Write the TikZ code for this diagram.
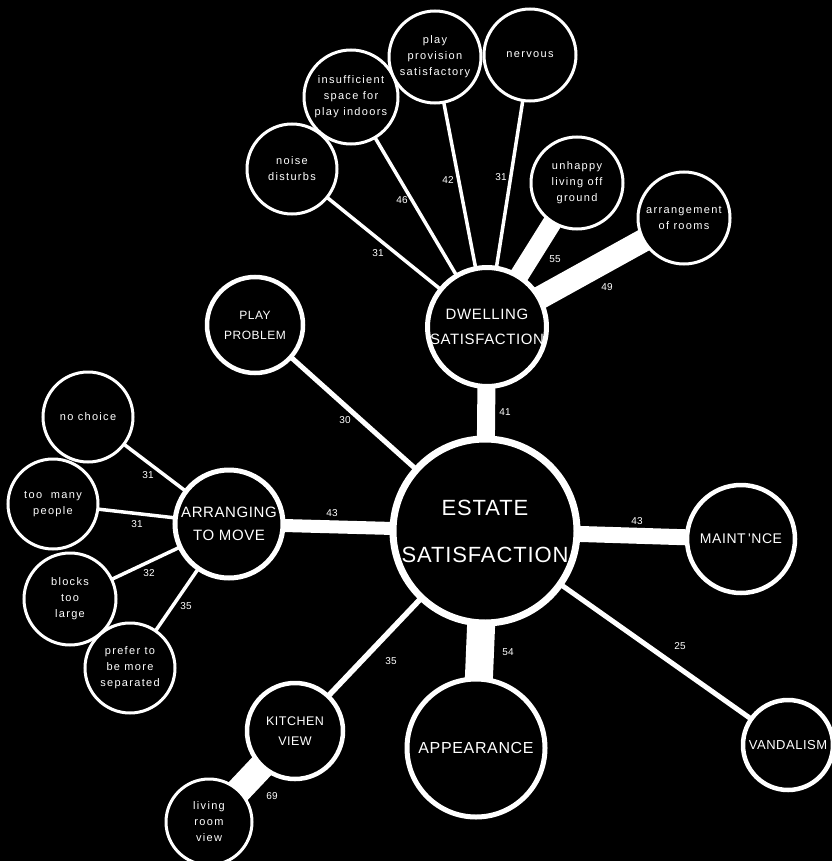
\documentclass[tikz,border=0pt]{standalone}
\usepackage{fontspec}
\setmainfont{Liberation Sans}
\newfontfamily\capsf[LetterSpace=4]{Liberation Sans}
\newfontfamily\smallf[LetterSpace=12]{Liberation Sans}
\usetikzlibrary{backgrounds}
\begin{document}
\begin{tikzpicture}[x=1pt,y=-1pt,
  bub/.style={circle, draw=white, fill=black, text=white, align=center, inner sep=0pt, outer sep=0pt},
  bigbub/.style={bub, line width=7pt, font=\capsf\fontsize{22}{47}\selectfont},
  midbub/.style={bub, line width=4.5pt},
  subbub/.style={bub, line width=3pt, font=\smallf\fontsize{11}{16}\selectfont},
  conn/.style={draw=white, line cap=butt},
  thin/.style={conn, line width=4pt},
  num/.style={text=white, font=\fontsize{10}{12}\selectfont, inner sep=0pt}]
\useasboundingbox (0,0) rectangle (832,861);
% main nodes
\node[bigbub, minimum size=184pt] (est) at (485,531) {ESTATE\\SATISFACTION};
\node[midbub, minimum size=116pt, line width=5pt, font=\capsf\fontsize{15}{25}\selectfont] (dw) at (487,327) {DWELLING\\SATISFACTION};
\node[midbub, minimum size=96pt, font=\capsf\fontsize{12}{20}\selectfont] (pp) at (255,325) {PLAY\\PROBLEM};
\node[midbub, minimum size=108pt, line width=5pt, font=\capsf\fontsize{15}{23}\selectfont] (arr) at (229,524) {ARRANGING\\TO MOVE};
\node[midbub, minimum size=108pt, font=\capsf\fontsize{14}{16}\selectfont] (mnt) at (741,539) {MAINT\,'NCE};
\node[midbub, minimum size=90pt, font=\capsf\fontsize{13}{16}\selectfont] (van) at (788,745) {VANDALISM};
\node[midbub, minimum size=138pt, line width=5pt, font=\capsf\fontsize{16}{20}\selectfont] (app) at (476,748) {APPEARANCE};
\node[midbub, minimum size=96pt, font=\capsf\fontsize{12.5}{20}\selectfont] (kv) at (295,731) {KITCHEN\\VIEW};
% sub nodes
\node[subbub, minimum size=86pt] (lrv) at (209,822) {living\\room\\view};
\node[subbub, minimum size=90pt] (nc) at (88,417) {no choice};
\node[subbub, minimum size=90pt] (tmp) at (53,504) {too\ \ many\\people};
\node[subbub, minimum size=92pt] (btl) at (70,599) {blocks\\too\\large};
\node[subbub, minimum size=90pt] (pref) at (130,668) {prefer to\\be more\\separated};
\node[subbub, minimum size=90pt] (noise) at (292,169) {noise\\disturbs};
\node[subbub, minimum size=94pt] (ins) at (351,97) {insufficient\\space for\\play indoors};
\node[subbub, minimum size=92pt] (ppr) at (435,57) {play\\provision\\satisfactory};
\node[subbub, minimum size=92pt] (nerv) at (530,55) {nervous};
\node[subbub, minimum size=92pt] (unh) at (577,183) {unhappy\\living off\\ground};
\node[subbub, minimum size=92pt] (arrg) at (684,218) {arrangement\\of rooms};
% connectors
\begin{scope}[on background layer]
\fill[black] (0,0) rectangle (832,861);
\draw[conn, line width=18pt] (est.center) -- (dw.center);
\draw[thin, line width=5pt] (est.center) -- (pp.center);
\draw[conn, line width=13pt] (est.center) -- (arr.center);
\draw[conn, line width=16pt] (est.center) -- (mnt.center);
\draw[thin, line width=5pt] (est.center) -- (van.center);
\draw[conn, line width=28pt] (est.center) -- (app.center);
\draw[thin, line width=5.5pt] (est.center) -- (kv.center);
\draw[conn, line width=26pt] (kv.center) -- (lrv.center);
\draw[thin, line width=3.5pt] (dw.center) -- (noise.center);
\draw[thin, line width=3.5pt] (dw.center) -- (ins.center);
\draw[thin, line width=3.5pt] (dw.center) -- (ppr.center);
\draw[thin, line width=3.5pt] (dw.center) -- (nerv.center);
\draw[conn, line width=19pt] (dw.center) -- (unh.center);
\draw[conn, line width=23pt] (dw.center) -- (arrg.center);
\draw[thin, line width=3.5pt] (arr.center) -- (nc.center);
\draw[thin, line width=3.5pt] (arr.center) -- (tmp.center);
\draw[thin, line width=3.5pt] (arr.center) -- (btl.center);
\draw[thin, line width=3.5pt] (arr.center) -- (pref.center);
\end{scope}
% labels
\node[num] (l1) at (505,412) {41};
\node[num] (l2) at (345,420) {30};
\node[num] (l3) at (332,513) {43};
\node[num] (l4) at (637,521) {43};
\node[num] (l5) at (680,646) {25};
\node[num] (l6) at (508,652) {54};
\node[num] (l7) at (391,661) {35};
\node[num] (l8) at (272,796) {69};
\node[num] (l9) at (378,253) {31};
\node[num] (l10) at (402,200) {46};
\node[num] (l11) at (448,180) {42};
\node[num] (l12) at (501,177) {31};
\node[num] (l13) at (555,259) {55};
\node[num] (l14) at (607,287) {49};
\node[num] (l15) at (148,475) {31};
\node[num] (l16) at (137,524) {31};
\node[num] (l17) at (149,573) {32};
\node[num] (l18) at (186,606) {35};
\end{tikzpicture}
\end{document}
